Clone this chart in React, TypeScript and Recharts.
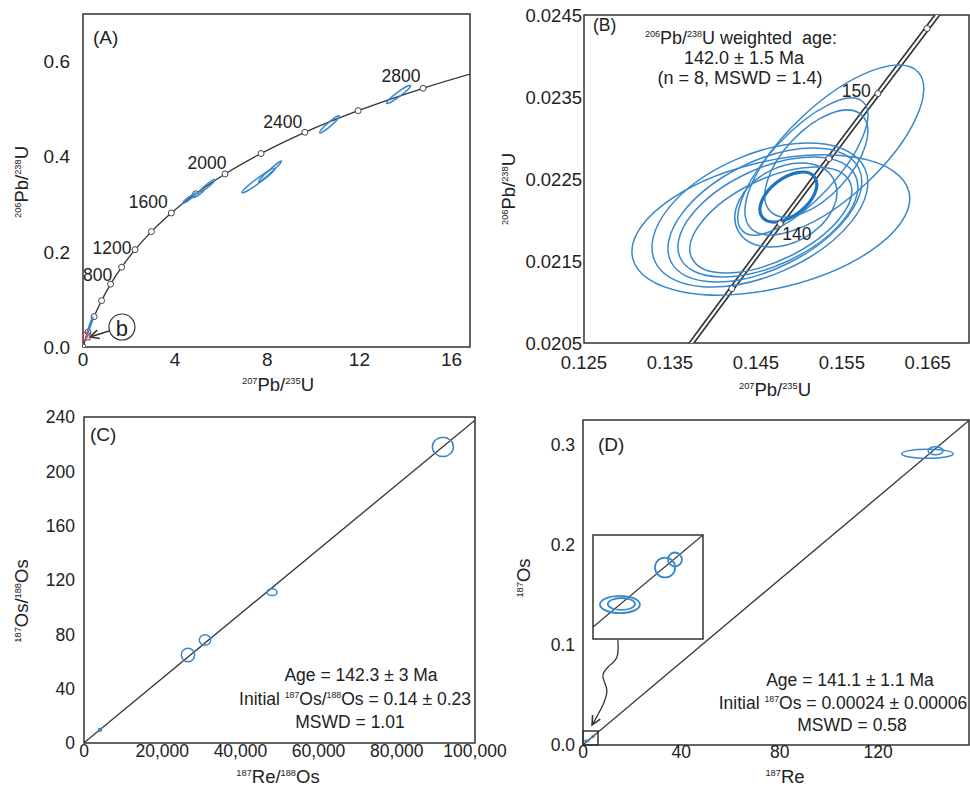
import React from 'react';
import { ComposedChart, Line, Scatter, XAxis, YAxis, ReferenceArea, ReferenceDot, LabelList } from 'recharts';

const FONT = '"Liberation Sans", Arial, Helvetica, sans-serif';
const INK = '#333';
const TXT = '#222';
const BLUE = '#3a88cc';

// ---------- (A) concordia, all zircons ----------
const concordiaA = [
  { age: 0, x: 0, y: 0 },
  { age: 200, x: 0.218, y: 0.0315 },
  { age: 400, x: 0.483, y: 0.064 },
  { age: 600, x: 0.806, y: 0.0975 },
  { age: 800, x: 1.199, y: 0.1321 },
  { age: 1000, x: 1.677, y: 0.1678 },
  { age: 1200, x: 2.26, y: 0.2046 },
  { age: 1400, x: 2.97, y: 0.2426 },
  { age: 1600, x: 3.834, y: 0.2817 },
  { age: 1800, x: 4.887, y: 0.3221 },
  { age: 2000, x: 6.168, y: 0.3638 },
  { age: 2200, x: 7.729, y: 0.4067 },
  { age: 2400, x: 9.63, y: 0.4513 },
  { age: 2600, x: 11.944, y: 0.4968 },
  { age: 2800, x: 14.762, y: 0.5439 },
  { age: 3000, x: 18.19, y: 0.5926 },
];
const labeledAgesA = [800, 1200, 1600, 2000, 2400, 2800];
const zirconsA = [
  { x: 0.16, y: 0.022, ex: 0.05, ey: 0.004, rho: 0.9 },
  { x: 0.3, y: 0.045, ex: 0.13, ey: 0.018, rho: 0.97 },
  { x: 4.62, y: 0.313, ex: 0.3, ey: 0.011, rho: 0.95 },
  { x: 5.0, y: 0.322, ex: 0.25, ey: 0.008, rho: 0.93 },
  { x: 5.4, y: 0.339, ex: 0.33, ey: 0.013, rho: 0.95 },
  { x: 7.62, y: 0.35, ex: 0.72, ey: 0.026, rho: 0.97 },
  { x: 8.12, y: 0.369, ex: 0.5, ey: 0.022, rho: 0.98 },
  { x: 10.7, y: 0.468, ex: 0.43, ey: 0.018, rho: 0.95 },
  { x: 13.7, y: 0.531, ex: 0.52, ey: 0.019, rho: 0.95 },
];
const zoomBoxA = { x: 0.147, y: 0.0225 };
const calloutA = [
  { x: 1.13, y: 0.0336 },
  { x: 0.3, y: 0.021 },
];
const calloutCircleA = { x: 1.69, y: 0.042 };

// ---------- (B) concordia, young zircons ----------
const concordiaB = [
  { age: 130, x: 0.13659, y: 0.02037 },
  { age: 135, x: 0.1422, y: 0.021163 },
  { age: 140, x: 0.147836, y: 0.021955 },
  { age: 145, x: 0.1535, y: 0.022748 },
  { age: 150, x: 0.159196, y: 0.023542 },
  { age: 155, x: 0.164919, y: 0.024335 },
  { age: 160, x: 0.170669, y: 0.025131 },
];
const labeledAgesB = [140, 150];
const zirconsB = [
  { x: 0.15413, y: 0.022854, ex: 0.01041, ey: 0.001037, rho: 0.72 },
  { x: 0.15047, y: 0.022652, ex: 0.00756, ey: 0.000835, rho: 0.75 },
  { x: 0.15203, y: 0.022689, ex: 0.00599, ey: 0.000652, rho: 0.6 },
  { x: 0.14674, y: 0.021939, ex: 0.01616, ey: 0.000854, rho: 0.38 },
  { x: 0.14547, y: 0.022061, ex: 0.01256, ey: 0.000878, rho: 0.45 },
  { x: 0.14605, y: 0.022061, ex: 0.01128, ey: 0.000817, rho: 0.5 },
  { x: 0.1464, y: 0.022037, ex: 0.01047, ey: 0.000732, rho: 0.5 },
  { x: 0.14674, y: 0.0220, ex: 0.00942, ey: 0.000646, rho: 0.55 },
  { x: 0.14849, y: 0.022183, ex: 0.00593, ey: 0.000512, rho: 0.3 },
];
const meanB = [{ x: 0.14878, y: 0.02228, ex: 0.00331, ey: 0.000305, rho: 0.5 }];

// ---------- (C) Re-Os isochron ----------
const isochronC = [
  { x: 0, y: 0.14 },
  { x: 100000, y: 237.6 },
];
const samplesC = [
  { x: 4090, y: 9.6, ex: 400, ey: 1.0, rho: 0 },
  { x: 26600, y: 64.8, ex: 1710, ey: 4.9, rho: 0 },
  { x: 30950, y: 75.8, ex: 1460, ey: 3.9, rho: 0 },
  { x: 48080, y: 111, ex: 1280, ey: 2.5, rho: 0 },
  { x: 91800, y: 218, ex: 2690, ey: 7.1, rho: 0 },
];

// ---------- (D) 187Re-187Os isochron ----------
const isochronD = [
  { x: 0, y: 0.00024 },
  { x: 157, y: 0.3245 },
];
const samplesD = [
  { x: 140.1, y: 0.2912, ex: 10.5, ey: 0.0045, rho: 0 },
  { x: 143.4, y: 0.2942, ex: 3.05, ey: 0.004, rho: 0 },
];
const samplesDLow = [
  { x: 1.47, y: 0.00398, ex: 1.09, ey: 0.001, rho: 0 },
  { x: 1.55, y: 0.00404, ex: 0.74, ey: 0.00069, rho: 0 },
  { x: 3.93, y: 0.00825, ex: 0.55, ey: 0.00115, rho: 0 },
  { x: 4.47, y: 0.00917, ex: 0.38, ey: 0.00081, rho: 0 },
];
const insetLine = [
  { x: 0, y: 0.00138 },
  { x: 6, y: 0.012 },
];
const zoomBoxD = { x2: 6.1, y2: 0.014 };
const arrowD = [
  { x: 14.2, y: 0.105 },
  { x: 13.8, y: 0.088 },
  { x: 10.2, y: 0.078 },
  { x: 8.1, y: 0.068 },
  { x: 9.7, y: 0.055 },
  { x: 7.7, y: 0.038 },
  { x: 3.7, y: 0.02 },
];

// ---------- layout ----------
type Panel = {
  left: number; top: number; width: number; height: number;
  margin: { top: number; right: number; bottom: number; left: number };
  yW: number; xH: number; xDom: [number, number]; yDom: [number, number];
};
const panelA: Panel = { left: 0, top: 0, width: 485, height: 400, margin: { top: 14, right: 15, bottom: 23, left: 0 }, yW: 83, xH: 30, xDom: [0, 16.8], yDom: [0, 0.7] };
const panelB: Panel = { left: 485, top: 0, width: 485, height: 400, margin: { top: 15, right: 1, bottom: 27, left: 0 }, yW: 99, xH: 30, xDom: [0.125, 0.1698], yDom: [0.0205, 0.0245] };
const panelC: Panel = { left: 0, top: 400, width: 510, height: 386, margin: { top: 17, right: 35, bottom: 13, left: 0 }, yW: 84, xH: 30, xDom: [0, 100000], yDom: [0, 240] };
const panelD: Panel = { left: 485, top: 400, width: 485, height: 386, margin: { top: 20, right: 1, bottom: 11, left: 0 }, yW: 98, xH: 30, xDom: [0, 157], yDom: [0, 0.325] };
const panelInset: Panel = { left: 592, top: 534, width: 112, height: 106, margin: { top: 1, right: 1, bottom: 1, left: 1 }, yW: 0, xH: 0, xDom: [0, 6], yDom: [0, 0.012] };

function pxPerUnit(p: Panel) {
  const w = p.width - p.margin.left - p.margin.right - p.yW;
  const h = p.height - p.margin.top - p.margin.bottom - p.xH;
  return { kx: w / (p.xDom[1] - p.xDom[0]), ky: h / (p.yDom[1] - p.yDom[0]) };
}

// error ellipse from bounding half-extents + correlation, converted to pixel space
function ellipseGeom(ex: number, ey: number, rho: number, kx: number, ky: number) {
  const sx = ex * kx;
  const sy = ey * ky;
  const a = sx * sx;
  const c = sy * sy;
  const b = -rho * sx * sy; // screen y points down
  const m = (a + c) / 2;
  const d = Math.sqrt(((a - c) / 2) ** 2 + b * b);
  return {
    rx: Math.sqrt(m + d),
    ry: Math.sqrt(Math.max(m - d, 0)),
    ang: (0.5 * Math.atan2(2 * b, a - c) * 180) / Math.PI,
  };
}

const ellipseShape = (p: Panel, stroke = BLUE, sw = 1.5) => (props: any) => {
  const { cx, cy, payload } = props;
  const k = pxPerUnit(p);
  const g = ellipseGeom(payload.ex, payload.ey, payload.rho, k.kx, k.ky);
  return (
    <ellipse
      cx={cx}
      cy={cy}
      rx={g.rx}
      ry={Math.max(g.ry, 0.6)}
      transform={`rotate(${g.ang} ${cx} ${cy})`}
      fill="none"
      stroke={stroke}
      strokeWidth={sw}
    />
  );
};

function arrowHead(cx: number, cy: number, from: { x: number; y: number }, to: { x: number; y: number }, p: Panel, key: string) {
  const k = pxPerUnit(p);
  const a = Math.atan2(-(to.y - from.y) * k.ky, (to.x - from.x) * k.kx);
  const L = 10;
  const w = 0.45;
  const p1 = [cx - L * Math.cos(a - w), cy - L * Math.sin(a - w)];
  const p2 = [cx - L * Math.cos(a + w), cy - L * Math.sin(a + w)];
  return <path key={key} d={`M${p1.join(',')} L${cx},${cy} L${p2.join(',')}`} fill="none" stroke={INK} strokeWidth={1.6} />;
}

const concDot = (props: any) => (
  <circle key={`c${props.index}`} cx={props.cx} cy={props.cy} r={3} fill="#fff" stroke="#444" strokeWidth={1} />
);

const ageOffsetA: Record<number, [number, number]> = {
  800: [-13, -9], 1200: [-23, -2], 1600: [-23, -11], 2000: [-18, -11], 2400: [-22, -10], 2800: [-22, -12],
};
const renderAgeA = (props: any) => {
  const { x, y, value } = props;
  if (!labeledAgesA.includes(value)) return null;
  const [dx, dy] = ageOffsetA[value];
  return (
    <text x={x + dx} y={y + dy} textAnchor="middle" dominantBaseline="central" fontSize={17.5} fill={TXT} fontFamily={FONT}>
      {value}
    </text>
  );
};
const renderAgeB = (props: any) => {
  const { x, y, value } = props;
  if (!labeledAgesB.includes(value)) return null;
  const lower = value === 140;
  return (
    <text x={x + (lower ? 2 : -7)} y={y + (lower ? 10 : -3)} textAnchor={lower ? 'start' : 'end'} dominantBaseline="central" fontSize={17.5} fill={TXT} fontFamily={FONT}>
      {value}
    </text>
  );
};

function axes(p: Panel, xTicks: number[], yTicks: number[], fx: (v: number) => string, fy: (v: number) => string, tickFont: number, xMargin: number, yMargin: number) {
  const tick = { fontSize: tickFont, fill: TXT, fontFamily: FONT };
  return [
    <XAxis key="x" type="number" dataKey="x" domain={p.xDom} ticks={xTicks} interval={0} allowDataOverflow axisLine={false} tickLine={false} tickSize={0} tickMargin={xMargin} height={p.xH} tick={tick} tickFormatter={fx} />,
    <YAxis key="y" type="number" dataKey="y" domain={p.yDom} ticks={yTicks} interval={0} allowDataOverflow axisLine={false} tickLine={false} tickSize={0} tickMargin={yMargin} width={p.yW} tick={tick} tickFormatter={fy} />,
    <ReferenceArea key="frame" x1={p.xDom[0]} x2={p.xDom[1]} y1={p.yDom[0]} y2={p.yDom[1]} fill="none" stroke={INK} strokeWidth={1.5} ifOverflow="visible" />,
  ];
}

const box = (p: Panel): React.CSSProperties => ({ position: 'absolute', left: p.left, top: p.top, width: p.width, height: p.height });

type Seg = [string, boolean?];
function rich(segs: Seg[], size: number) {
  let raised = false;
  const lift = size * 0.38;
  return segs.map(([t, sup], i) => {
    let dy = 0;
    if (sup && !raised) { dy = -lift; raised = true; }
    else if (!sup && raised) { dy = lift; raised = false; }
    return (
      <tspan key={i} fontSize={sup ? size * 0.5 : size} dy={dy}>
        {t}
      </tspan>
    );
  });
}

const pbY: Seg[] = [['206', true], ['Pb/'], ['238', true], ['U']];
const pbX: Seg[] = [['207', true], ['Pb/'], ['235', true], ['U']];

export default function App() {
  const commaFmt = (v: number) => v.toLocaleString('en-US');
  const last = arrowD.length - 1;
  return (
    <div style={{ position: 'relative', width: 970, height: 786, background: '#fff', fontFamily: FONT }}>
      <style>{'body{margin:0}'}</style>

      {/* (A) */}
      <div style={box(panelA)}>
        <ComposedChart width={panelA.width} height={panelA.height} margin={panelA.margin}>
          {axes(panelA, [0, 4, 8, 12, 16], [0, 0.2, 0.4, 0.6], (v) => String(v), (v) => v.toFixed(1), 19, 6, 13)}
          <Line data={concordiaA} dataKey="y" type="monotone" stroke={INK} strokeWidth={1.3} dot={concDot} isAnimationActive={false}>
            <LabelList dataKey="age" content={renderAgeA} />
          </Line>
          <Scatter data={zirconsA} shape={ellipseShape(panelA)} isAnimationActive={false} />
          <Line data={calloutA} dataKey="y" type="linear" stroke={INK} strokeWidth={1.4} isAnimationActive={false}
            dot={(p: any) => (p.index === calloutA.length - 1 ? arrowHead(p.cx, p.cy, calloutA[0], calloutA[1], panelA, 'ah') : <g key={`g${p.index}`} />)} />
          <ReferenceDot x={zoomBoxA.x} y={zoomBoxA.y} ifOverflow="visible"
            shape={(p: any) => <rect x={p.cx - 3.5} y={p.cy - 3.5} width={7} height={7} fill="none" stroke="#e03a3a" strokeWidth={1.3} />} />
          <ReferenceDot x={calloutCircleA.x} y={calloutCircleA.y} ifOverflow="visible"
            shape={(p: any) => (
              <g>
                <circle cx={p.cx} cy={p.cy} r={13} fill="#fff" stroke={INK} strokeWidth={1.2} />
                <text x={p.cx} y={p.cy + 1} textAnchor="middle" dominantBaseline="central" fontSize={22} fill={TXT} fontFamily={FONT}>b</text>
              </g>
            )} />
        </ComposedChart>
      </div>

      {/* (B) */}
      <div style={box(panelB)}>
        <ComposedChart width={panelB.width} height={panelB.height} margin={panelB.margin}>
          {axes(panelB, [0.125, 0.135, 0.145, 0.155, 0.165], [0.0205, 0.0215, 0.0225, 0.0235, 0.0245], (v) => v.toFixed(3), (v) => v.toFixed(4), 18.5, 13, 2)}
          <Scatter data={zirconsB} shape={ellipseShape(panelB)} isAnimationActive={false} />
          <Scatter data={meanB} shape={ellipseShape(panelB, '#1f74bf', 3.2)} isAnimationActive={false} />
          <Line data={concordiaB} dataKey="y" type="linear" stroke={INK} strokeWidth={5.5} dot={false} isAnimationActive={false} />
          <Line data={concordiaB} dataKey="y" type="linear" stroke="#fff" strokeWidth={2.2} dot={concDot} isAnimationActive={false}>
            <LabelList dataKey="age" content={renderAgeB} />
          </Line>
        </ComposedChart>
      </div>

      {/* (C) */}
      <div style={box(panelC)}>
        <ComposedChart width={panelC.width} height={panelC.height} margin={panelC.margin}>
          {axes(panelC, [0, 20000, 40000, 60000, 80000, 100000], [0, 40, 80, 120, 160, 200, 240], commaFmt, (v) => String(v), 17.5, 2, 9)}
          <Line data={isochronC} dataKey="y" type="linear" stroke={INK} strokeWidth={1.3} dot={false} isAnimationActive={false} />
          <Scatter data={samplesC} shape={ellipseShape(panelC)} isAnimationActive={false} />
        </ComposedChart>
      </div>

      {/* (D) */}
      <div style={box(panelD)}>
        <ComposedChart width={panelD.width} height={panelD.height} margin={panelD.margin}>
          {axes(panelD, [0, 40, 80, 120], [0, 0.1, 0.2, 0.3], (v) => String(v), (v) => v.toFixed(1), 17.5, 1, 8)}
          <Line data={isochronD} dataKey="y" type="linear" stroke={INK} strokeWidth={1.3} dot={false} isAnimationActive={false} />
          <Scatter data={samplesD} shape={ellipseShape(panelD)} isAnimationActive={false} />
          <Scatter data={samplesDLow} shape={ellipseShape(panelD, BLUE, 1)} isAnimationActive={false} />
          <ReferenceArea x1={0} x2={zoomBoxD.x2} y1={0} y2={zoomBoxD.y2} fill="none" stroke={INK} strokeWidth={1.5} ifOverflow="visible" />
          <Line data={arrowD} dataKey="y" type="natural" stroke={INK} strokeWidth={1.3} isAnimationActive={false}
            dot={(p: any) => (p.index === last ? arrowHead(p.cx, p.cy, arrowD[last - 1], arrowD[last], panelD, 'ahd') : <g key={`g${p.index}`} />)} />
        </ComposedChart>
      </div>

      {/* (D) inset */}
      <div style={{ ...box(panelInset), background: '#fff' }}>
        <ComposedChart width={panelInset.width} height={panelInset.height} margin={panelInset.margin}>
          <XAxis type="number" dataKey="x" domain={panelInset.xDom} allowDataOverflow hide />
          <YAxis type="number" dataKey="y" domain={panelInset.yDom} allowDataOverflow hide />
          <ReferenceArea x1={0} x2={6} y1={0} y2={0.012} fill="none" stroke={INK} strokeWidth={1.5} ifOverflow="visible" />
          <Line data={insetLine} dataKey="y" type="linear" stroke={INK} strokeWidth={1.2} dot={false} isAnimationActive={false} />
          <Scatter data={samplesDLow} shape={ellipseShape(panelInset, BLUE, 1.8)} isAnimationActive={false} />
        </ComposedChart>
      </div>

      {/* text annotations */}
      <svg width={970} height={786} style={{ position: 'absolute', left: 0, top: 0, pointerEvents: 'none' }} fontFamily={FONT} fill={TXT}>
        <text x={93} y={44} fontSize={19}>(A)</text>
        <text x={593} y={31} fontSize={17.5}>(B)</text>
        <text x={90} y={441} fontSize={19}>(C)</text>
        <text x={598} y={451} fontSize={19}>(D)</text>

        <text transform="translate(28,182) rotate(-90)" textAnchor="middle">{rich(pbY, 18.5)}</text>
        <text x={278} y={391} textAnchor="middle">{rich(pbX, 18.5)}</text>
        <text transform="translate(515,189) rotate(-90)" textAnchor="middle">{rich(pbY, 18.5)}</text>
        <text x={775} y={396} textAnchor="middle">{rich(pbX, 18.5)}</text>
        <text transform="translate(28,601) rotate(-90)" textAnchor="middle">{rich([['187', true], ['Os/'], ['188', true], ['Os']], 18.5)}</text>
        <text x={278} y={783} textAnchor="middle">{rich([['187', true], ['Re/'], ['188', true], ['Os']], 18.5)}</text>
        <text transform="translate(530,578) rotate(-90)" textAnchor="middle">{rich([['187', true], ['Os']], 18.5)}</text>
        <text x={785} y={783} textAnchor="middle">{rich([['187', true], ['Re']], 18.5)}</text>

        <text x={741} y={44} textAnchor="middle">{rich([['206', true], ['Pb/'], ['238', true], ['U weighted\u00a0\u00a0age:']], 18)}</text>
        <text x={744} y={64} textAnchor="middle" fontSize={18}>142.0 ± 1.5 Ma</text>
        <text x={740} y={84} textAnchor="middle" fontSize={18}>(n = 8, MSWD = 1.4)</text>

        <text x={361} y={681} textAnchor="middle" fontSize={17.5}>Age = 142.3 ± 3 Ma</text>
        <text x={355} y={705} textAnchor="middle">{rich([['Initial '], ['187', true], ['Os/'], ['188', true], ['Os = 0.14 ± 0.23']], 17.5)}</text>
        <text x={350} y={728} textAnchor="middle" fontSize={17.5}>MSWD = 1.01</text>

        <text x={850} y={686} textAnchor="middle" fontSize={17.5}>Age = 141.1 ± 1.1 Ma</text>
        <text x={843} y={709} textAnchor="middle">{rich([['Initial '], ['187', true], ['Os = 0.00024 ± 0.00006']], 17.5)}</text>
        <text x={852} y={731} textAnchor="middle" fontSize={17.5}>MSWD = 0.58</text>
      </svg>
    </div>
  );
}
